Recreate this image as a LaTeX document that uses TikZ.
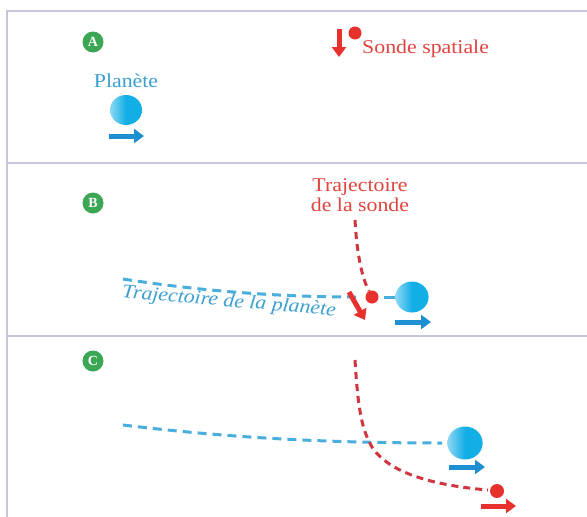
\documentclass[tikz,border=0pt]{standalone}
\usepackage{fontspec}
\setmainfont{Liberation Serif}
\usetikzlibrary{arrows.meta}
\definecolor{framecol}{HTML}{C8C4DA}
\definecolor{stepgreen}{HTML}{3BA653}
\definecolor{planetblue}{HTML}{12AEE6}
\definecolor{planetlight}{HTML}{8ED8F4}
\definecolor{arrowblue}{HTML}{1E90D2}
\definecolor{textblue}{HTML}{3C9FD1}
\definecolor{dashblue}{HTML}{4AAEDC}
\definecolor{probered}{HTML}{E8302C}
\definecolor{textred}{HTML}{E0443F}
\definecolor{dashred}{HTML}{D03640}
\tikzset{
  panelline/.style={draw=framecol, line width=1.6pt},
  stepmark/.style={circle, fill=stepgreen, minimum size=21pt, inner sep=0pt,
    text=white, font=\fontsize{14}{14}\selectfont\bfseries},
  txt/.style={inner sep=0pt, xscale=1.12, font=\fontsize{19.5}{20}\selectfont},
  fatarrow/.style={line width=5pt, -{Triangle[length=10pt,width=14pt]}},
  bluepath/.style={draw=dashblue, line width=3pt, dash pattern=on 9pt off 6pt},
  redpath/.style={draw=dashred, line width=3pt, dash pattern=on 7pt off 5pt},
  probe/.style={circle, fill=probered, minimum size=13pt, inner sep=0pt},
}
\newcommand{\planetball}[3]{%
  \shade[left color=planetlight, right color=planetblue, middle color=planetblue]
    (#1,#2) ellipse [x radius=#3*1.07pt, y radius=#3 pt];}
\begin{document}
\begin{tikzpicture}[x=1pt,y=-1pt]
\useasboundingbox (0,0) rectangle (587,517);
\fill[white] (0,0) rectangle (587,517);

% panel frame
\draw[panelline] (7,517) -- (7,11) -- (587,11);
\draw[panelline] (7,163) -- (587,163);
\draw[panelline] (7,336) -- (587,336);

% ---------- panel A ----------
\node[stepmark] (markA) at (93,42) {A};
\node[txt, text=textblue, anchor=base] (planetlabel) at (126,87) {Planète};
\planetball{126}{110}{15}
\coordinate (pA) at (126,110);
\coordinate (vA1) at (109,136);
\coordinate (vA2) at (144,136);
\draw[fatarrow, arrowblue] (vA1) -- (vA2);

\coordinate (sA1) at (339,29);
\coordinate (sA2) at (339,57);
\draw[fatarrow, probered] (sA1) -- (sA2);
\node[probe] (probeA) at (355,33) {};
\node[txt, text=textred, anchor=base west] (probelabel) at (362,53) {Sonde spatiale};

% ---------- panel B ----------
\node[stepmark] (markB) at (93,203) {B};
\node[txt, text=textred, align=center] (probepath) at (360,195) {Trajectoire\\de la sonde};

\coordinate (bp1) at (123,279);
\coordinate (bp2) at (356,297);
\draw[bluepath] (bp1) .. controls (200,291) and (280,297) .. (bp2);
\coordinate (bp3) at (384,297);
\coordinate (bp4) at (395,297);
\draw[bluepath, dash pattern=] (bp3) -- (bp4);
\node[txt, text=textblue, rotate=-5.5, font=\fontsize{19.5}{20}\selectfont\itshape]
  (planetpath) at (229,302) {Trajectoire de la planète};

\coordinate (rp1) at (355,220);
\coordinate (rp2) at (369,291);
\draw[redpath] (rp1) .. controls (357,255) and (362,278) .. (rp2);
\node[probe] (probeB) at (372,297) {};
\coordinate (sB1) at (349,292);
\coordinate (sB2) at (365,320);
\draw[fatarrow, probered] (sB1) -- (sB2);

\planetball{412}{297}{15.5}
\coordinate (vB1) at (395,322);
\coordinate (vB2) at (431,322);
\draw[fatarrow, arrowblue] (vB1) -- (vB2);

% ---------- panel C ----------
\node[stepmark] (markC) at (93,361) {C};

\coordinate (cp1) at (123,425);
\coordinate (cp2) at (442,443);
\draw[bluepath] (cp1) .. controls (230,438) and (330,443) .. (cp2);
\planetball{465}{443}{16.5}
\coordinate (vC1) at (449,467);
\coordinate (vC2) at (485,467);
\draw[fatarrow, arrowblue] (vC1) -- (vC2);

\coordinate (rc1) at (355,360);
\coordinate (rc2) at (372,447);
\coordinate (rc3) at (488,490);
\draw[redpath] (rc1) .. controls (358,410) and (362,430) .. (rc2)
  .. controls (390,475) and (440,486) .. (rc3);
\node[probe, minimum size=14pt] (probeC) at (497,491) {};
\coordinate (sC1) at (481,506);
\coordinate (sC2) at (516,506);
\draw[fatarrow, probered] (sC1) -- (sC2);
\end{tikzpicture}
\end{document}
